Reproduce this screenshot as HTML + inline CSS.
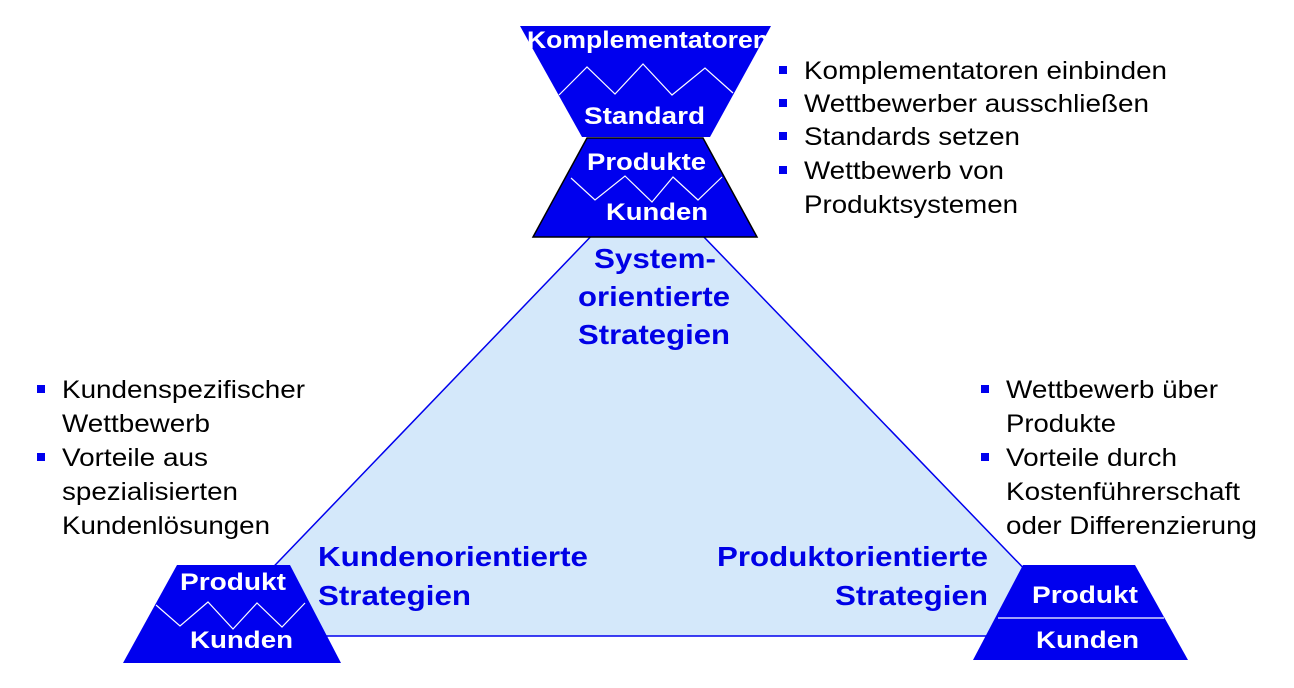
<!DOCTYPE html>
<html><head><meta charset="utf-8"><style>
html,body{margin:0;padding:0;background:#fff;}
svg{display:block;font-family:"Liberation Sans",sans-serif;}
.b{font-size:25px;fill:#000;}
.w{font-size:24px;font-weight:bold;fill:#fff;}
.h{font-size:28px;font-weight:bold;fill:#0000e6;}
</style></head><body>
<svg width="1294" height="688" viewBox="0 0 1294 688">
<polygon points="647,178 207,636 1089,636" fill="#d4e8fa" stroke="#0000ee" stroke-width="1.5"/>
<polygon points="520,26 771,26 710,137 582,137" fill="#0000ee"/>
<polyline points="559,95 587,67 615,94 643,64 672,95 705,68 733,93" fill="none" stroke="#fff" stroke-width="1.2"/>
<polygon points="587,138 703,138 757,237 533,237" fill="#0000ee" stroke="#000" stroke-width="1.5"/>
<polyline points="571,178 595,200 625,176 652,202 673,177 698,200 722,177" fill="none" stroke="#fff" stroke-width="1.2"/>
<text class="w" x="527" y="48" textLength="242" lengthAdjust="spacingAndGlyphs">Komplementatoren</text>
<text class="w" x="584" y="124" textLength="121" lengthAdjust="spacingAndGlyphs">Standard</text>
<text class="w" x="587" y="170" textLength="119" lengthAdjust="spacingAndGlyphs">Produkte</text>
<text class="w" x="606" y="220" textLength="102" lengthAdjust="spacingAndGlyphs">Kunden</text>
<polygon points="177,565 290,565 341,663 123,663" fill="#0000ee"/>
<polyline points="156,605 180,626 208,602 233,629 257,603 282,627 305,603" fill="none" stroke="#fff" stroke-width="1.2"/>
<text class="w" x="180" y="590" textLength="106" lengthAdjust="spacingAndGlyphs">Produkt</text>
<text class="w" x="190" y="648" textLength="103" lengthAdjust="spacingAndGlyphs">Kunden</text>
<polygon points="1023,565 1135,565 1188,660 973,660" fill="#0000ee"/>
<line x1="998" y1="618" x2="1164" y2="618" stroke="#fff" stroke-width="1.2"/>
<text class="w" x="1032" y="603" textLength="106" lengthAdjust="spacingAndGlyphs">Produkt</text>
<text class="w" x="1036" y="648" textLength="103" lengthAdjust="spacingAndGlyphs">Kunden</text>
<text class="h" x="594" y="268" textLength="122" lengthAdjust="spacingAndGlyphs">System-</text>
<text class="h" x="578" y="306" textLength="152" lengthAdjust="spacingAndGlyphs">orientierte</text>
<text class="h" x="578" y="344" textLength="152" lengthAdjust="spacingAndGlyphs">Strategien</text>
<text class="h" x="318" y="566" textLength="270" lengthAdjust="spacingAndGlyphs">Kundenorientierte</text>
<text class="h" x="318" y="605" textLength="153" lengthAdjust="spacingAndGlyphs">Strategien</text>
<text class="h" x="717" y="566" textLength="271" lengthAdjust="spacingAndGlyphs">Produktorientierte</text>
<text class="h" x="835" y="605" textLength="153" lengthAdjust="spacingAndGlyphs">Strategien</text>
<g fill="#0000ee">
<rect x="779" y="66" width="8" height="8"/><rect x="779" y="99" width="8" height="8"/><rect x="779" y="132" width="8" height="8"/><rect x="779" y="166" width="8" height="8"/>
<rect x="37" y="385" width="8" height="8"/><rect x="37" y="453" width="8" height="8"/>
<rect x="981" y="385" width="8" height="8"/><rect x="981" y="453" width="8" height="8"/>
</g>
<g class="b" lengthAdjust="spacingAndGlyphs">
<text class="b" x="804" y="79" textLength="363" lengthAdjust="spacingAndGlyphs">Komplementatoren einbinden</text>
<text class="b" x="804" y="112" textLength="345" lengthAdjust="spacingAndGlyphs">Wettbewerber ausschließen</text>
<text class="b" x="804" y="145" textLength="216" lengthAdjust="spacingAndGlyphs">Standards setzen</text>
<text class="b" x="804" y="179" textLength="200" lengthAdjust="spacingAndGlyphs">Wettbewerb von</text>
<text class="b" x="804" y="213" textLength="214" lengthAdjust="spacingAndGlyphs">Produktsystemen</text>
<text class="b" x="62" y="398" textLength="243" lengthAdjust="spacingAndGlyphs">Kundenspezifischer</text>
<text class="b" x="62" y="432" textLength="148" lengthAdjust="spacingAndGlyphs">Wettbewerb</text>
<text class="b" x="62" y="466" textLength="146" lengthAdjust="spacingAndGlyphs">Vorteile aus</text>
<text class="b" x="62" y="500" textLength="176" lengthAdjust="spacingAndGlyphs">spezialisierten</text>
<text class="b" x="62" y="534" textLength="208" lengthAdjust="spacingAndGlyphs">Kundenlösungen</text>
<text class="b" x="1006" y="398" textLength="212" lengthAdjust="spacingAndGlyphs">Wettbewerb über</text>
<text class="b" x="1006" y="432" textLength="110" lengthAdjust="spacingAndGlyphs">Produkte</text>
<text class="b" x="1006" y="466" textLength="171" lengthAdjust="spacingAndGlyphs">Vorteile durch</text>
<text class="b" x="1006" y="500" textLength="234" lengthAdjust="spacingAndGlyphs">Kostenführerschaft</text>
<text class="b" x="1006" y="534" textLength="251" lengthAdjust="spacingAndGlyphs">oder Differenzierung</text>
</g>
</svg>
</body></html>
